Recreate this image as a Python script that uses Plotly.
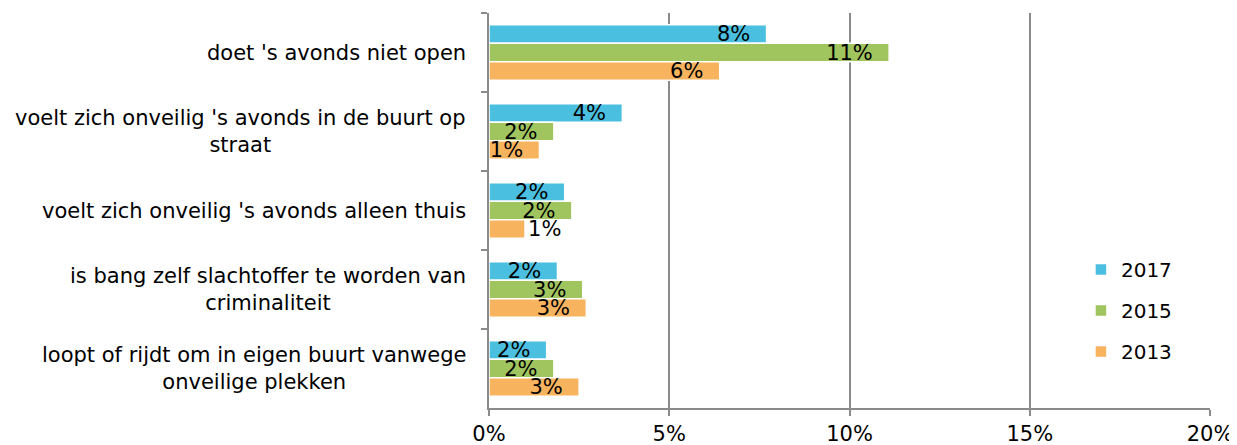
import plotly.graph_objects as go

categories = [
    "doet 's avonds niet open",
    "voelt zich onveilig 's avonds in de buurt op<br>straat",
    "voelt zich onveilig 's avonds alleen thuis",
    "is bang zelf slachtoffer te worden van<br>criminaliteit",
    "loopt of rijdt om in eigen buurt vanwege<br>onveilige plekken",
]
years = ["2017", "2015", "2013"]
values_2017 = [7.7, 3.7, 2.1, 1.9, 1.6]
values_2015 = [11.1, 1.8, 2.3, 2.6, 1.8]
values_2013 = [6.4, 1.4, 1.0, 2.7, 2.5]
labels_2017 = ["8%", "4%", "2%", "2%", "2%"]
labels_2015 = ["11%", "2%", "2%", "3%", "2%"]
labels_2013 = ["6%", "1%", "1%", "3%", "3%"]
colors = {"2017": "#4BBFDF", "2015": "#A0C55E", "2013": "#F8B35E"}
x_ticks = [0, 5, 10, 15, 20]

series = {
    "2017": (values_2017, labels_2017),
    "2015": (values_2015, labels_2015),
    "2013": (values_2013, labels_2013),
}

FONT = "Verdana, DejaVu Sans, sans-serif"
AXIS = "#8a8a8a"

fig = go.Figure()
for yr in years:
    vals, labs = series[yr]
    fig.add_trace(go.Bar(
        y=categories, x=vals, orientation="h", name=yr, legendgroup=yr,
        marker=dict(color=colors[yr], line=dict(color="white", width=1.5)),
        text=[l + "\u00a0\u00a0" for l in labs],
        textposition=["inside" if v >= 1.3 else "outside" for v in vals],
        insidetextanchor="end", constraintext="none", cliponaxis=False,
        textfont=dict(family=FONT, size=21, color="black"),
        hoverinfo="skip",
    ))

for c in categories:
    fig.add_annotation(
        x=-0.029, xref="paper", y=c, yref="y", text=c, showarrow=False,
        xanchor="right", align="center",
        font=dict(family=FONT, size=21, color="black"),
    )

# the page body has an 8px margin, so the figure is sized to fit the window
fig.update_layout(
    width=1229, height=437,
    margin=dict(l=481, r=27, t=5, b=37, autoexpand=False),
    paper_bgcolor="white", plot_bgcolor="white",
    barmode="group", bargap=0.3, bargroupgap=0,
    font=dict(family=FONT, size=21, color="black"),
    showlegend=True,
    legend=dict(
        x=0.821, y=0.40, xanchor="left", yanchor="top",
        traceorder="grouped", tracegroupgap=12,
        font=dict(family=FONT, size=20, color="black"),
        bgcolor="rgba(0,0,0,0)",
    ),
    xaxis=dict(
        range=[0, 20], tickvals=x_ticks, ticktext=[f"{t}%" for t in x_ticks],
        showgrid=True, gridcolor=AXIS, gridwidth=1.5, zeroline=False,
        showline=True, linecolor=AXIS, linewidth=1.5,
        ticks="outside", ticklen=6, tickcolor=AXIS, tickwidth=1.5,
        tickfont=dict(family=FONT, size=21, color="black"),
        fixedrange=True, automargin=False,
    ),
    yaxis=dict(
        categoryorder="array", categoryarray=categories, autorange="reversed",
        showticklabels=False, tickson="boundaries",
        ticks="outside", ticklen=6, tickcolor=AXIS, tickwidth=1.5,
        showline=True, linecolor=AXIS, linewidth=1.5,
        showgrid=False, fixedrange=True, automargin=False,
    ),
)

fig.write_html("out.html")
